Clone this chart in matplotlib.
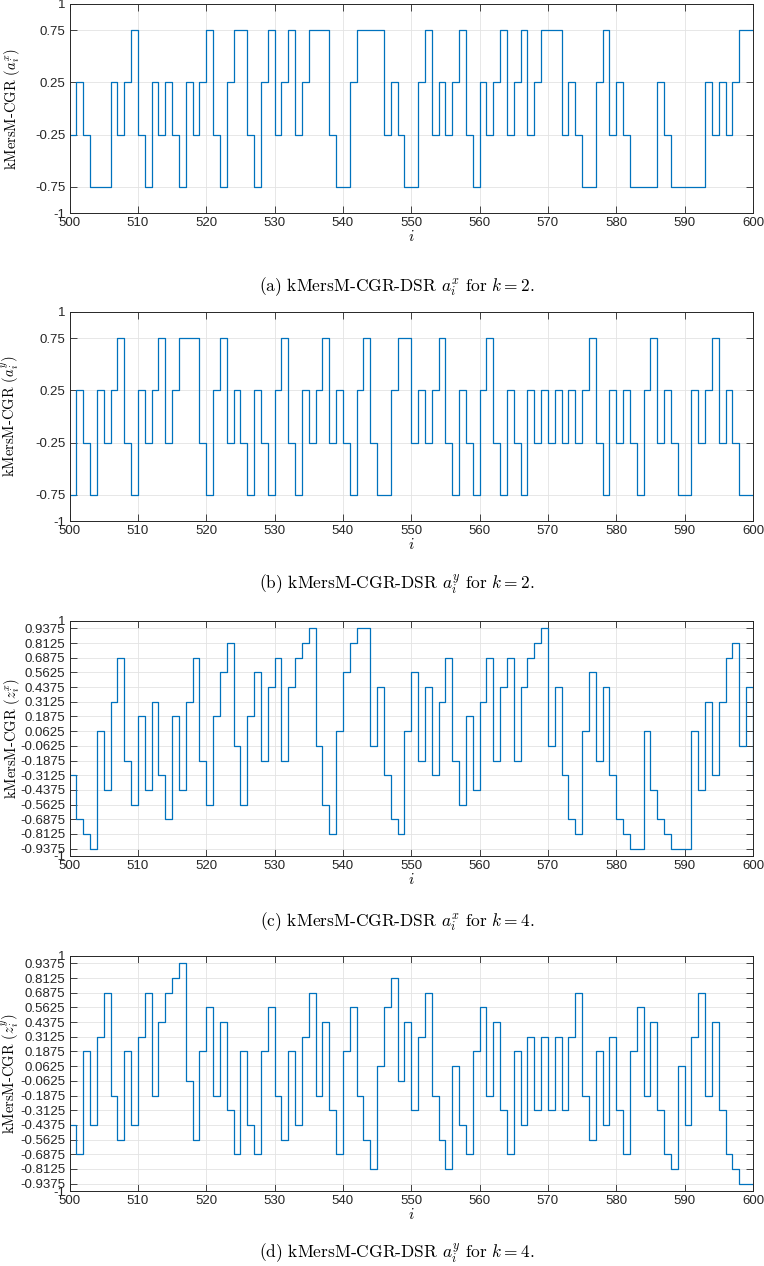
import matplotlib
matplotlib.use('Agg')
import matplotlib.pyplot as plt
import numpy as np

plt.rcParams['mathtext.fontset'] = 'cm'

positions = np.arange(500, 601)

# k = 2, x coordinate (i = 500 .. 600)
ax_k2 = [-0.25, 0.25, -0.25, -0.75, -0.75, -0.75, 0.25, -0.25, 0.25, 0.75,
         -0.25, -0.75, 0.25, -0.25, 0.25, -0.25, -0.75, 0.25, -0.25, 0.25,
         0.75, -0.25, -0.75, 0.25, 0.75, 0.75, -0.25, -0.75, 0.25, 0.75,
         -0.25, 0.25, 0.75, -0.25, 0.25, 0.75, 0.75, 0.75, -0.25, -0.75,
         -0.75, 0.25, 0.75, 0.75, 0.75, 0.75, -0.25, 0.25, -0.25, -0.75,
         -0.75, 0.25, 0.75, -0.25, 0.25, -0.25, 0.25, 0.75, -0.25, -0.75,
         0.25, -0.25, 0.25, 0.75, -0.25, 0.25, 0.75, -0.25, 0.25, 0.75,
         0.75, 0.75, -0.25, 0.25, -0.25, -0.75, -0.75, 0.25, 0.75, -0.25,
         0.25, -0.25, -0.75, -0.75, -0.75, -0.75, 0.25, -0.25, -0.75, -0.75,
         -0.75, -0.75, -0.75, 0.25, -0.25, 0.25, -0.25, 0.25, 0.75, 0.75,
         0.75]

# k = 2, y coordinate
ay_k2 = [-0.75, 0.25, -0.25, -0.75, 0.25, -0.25, 0.25, 0.75, -0.25, -0.75,
         0.25, -0.25, 0.25, 0.75, -0.25, 0.25, 0.75, 0.75, 0.75, -0.25,
         -0.75, 0.25, 0.75, -0.25, 0.25, -0.25, -0.75, 0.25, -0.25, -0.75,
         0.25, 0.75, -0.25, -0.75, 0.25, -0.25, 0.25, 0.75, -0.25, 0.25,
         -0.25, -0.75, 0.25, 0.75, -0.25, -0.75, -0.75, 0.25, 0.75, 0.75,
         -0.25, 0.25, -0.25, 0.25, 0.75, -0.25, -0.75, 0.25, -0.25, -0.75,
         0.25, 0.75, -0.25, -0.75, 0.25, -0.25, -0.75, 0.25, -0.25, 0.25,
         -0.25, 0.25, -0.25, 0.25, -0.25, 0.25, 0.75, -0.25, -0.75, 0.25,
         -0.25, 0.25, -0.25, -0.75, 0.25, 0.75, -0.25, 0.25, -0.25, -0.75,
         -0.75, 0.25, -0.25, 0.25, 0.75, -0.25, 0.25, -0.25, -0.75, -0.75,
         -0.75]

# k = 4, x coordinate
ax_k4 = [-0.3125, -0.6875, -0.8125, -0.9375, 0.0625, -0.4375, 0.3125, 0.6875, -0.1875, -0.5625,
         0.1875, -0.4375, 0.3125, -0.3125, -0.6875, 0.1875, -0.4375, 0.3125, 0.6875, -0.1875,
         -0.5625, 0.1875, 0.5625, 0.8125, -0.0625, -0.5625, 0.1875, 0.5625, -0.1875, 0.4375,
         0.6875, -0.1875, 0.4375, 0.6875, 0.8125, 0.9375, -0.0625, -0.5625, -0.8125, 0.0625,
         0.5625, 0.8125, 0.9375, 0.9375, -0.0625, 0.4375, -0.3125, -0.6875, -0.8125, 0.0625,
         0.5625, -0.1875, 0.4375, -0.3125, 0.3125, 0.6875, -0.1875, -0.5625, 0.1875, -0.4375,
         0.3125, 0.6875, -0.1875, 0.4375, 0.6875, -0.1875, 0.4375, 0.6875, 0.8125, 0.9375,
         -0.0625, 0.4375, -0.3125, -0.6875, -0.8125, 0.0625, 0.5625, -0.1875, 0.4375, -0.3125,
         -0.6875, -0.8125, -0.9375, -0.9375, 0.0625, -0.4375, -0.6875, -0.8125, -0.9375, -0.9375,
         -0.9375, 0.0625, -0.4375, 0.3125, -0.3125, 0.3125, 0.6875, 0.8125, -0.0625, 0.4375,
         -0.3125]

# k = 4, y coordinate
ay_k4 = [-0.4375, -0.6875, 0.1875, -0.4375, 0.3125, 0.6875, -0.1875, -0.5625, 0.1875, -0.4375,
         0.3125, 0.6875, -0.1875, 0.4375, 0.6875, 0.8125, 0.9375, -0.0625, -0.5625, 0.1875,
         0.5625, -0.1875, 0.4375, -0.3125, -0.6875, 0.1875, -0.4375, -0.6875, 0.1875, 0.5625,
         -0.1875, -0.5625, 0.1875, -0.4375, 0.3125, 0.6875, -0.1875, 0.4375, -0.3125, -0.6875,
         0.1875, 0.5625, -0.1875, -0.5625, -0.8125, 0.0625, 0.5625, 0.8125, -0.0625, 0.4375,
         -0.3125, 0.3125, 0.6875, -0.1875, -0.5625, -0.8125, 0.0625, -0.4375, -0.6875, 0.1875,
         0.5625, -0.1875, 0.4375, -0.3125, -0.6875, 0.1875, -0.4375, 0.3125, -0.3125, 0.3125,
         -0.3125, 0.3125, -0.3125, 0.3125, 0.6875, -0.1875, -0.5625, 0.1875, -0.4375, 0.3125,
         -0.3125, -0.6875, 0.1875, 0.5625, -0.1875, 0.4375, -0.3125, -0.6875, -0.8125, 0.0625,
         -0.4375, 0.3125, 0.6875, -0.1875, 0.4375, -0.3125, -0.6875, -0.8125, -0.9375, -0.9375,
         -0.9375]

xticks = list(range(500, 601, 10))
yticks_k2 = [-1, -0.75, -0.25, 0.25, 0.75, 1]
yticklabels_k2 = ['-1', '-0.75', '-0.25', '0.25', '0.75', '1']
yticks_k4 = [-1, -0.9375, -0.8125, -0.6875, -0.5625, -0.4375, -0.3125, -0.1875, -0.0625,
             0.0625, 0.1875, 0.3125, 0.4375, 0.5625, 0.6875, 0.8125, 0.9375, 1]
yticklabels_k4 = ['-1', '-0.9375', '-0.8125', '-0.6875', '-0.5625', '-0.4375', '-0.3125',
                  '-0.1875', '-0.0625', '0.0625', '0.1875', '0.3125', '0.4375', '0.5625',
                  '0.6875', '0.8125', '0.9375', '1']

panels = [
    (ax_k2, yticks_k2, yticklabels_k2, r'$(a_i^x)$', '(a)', r'$a_i^x$', 2),
    (ay_k2, yticks_k2, yticklabels_k2, r'$(a_i^y)$', '(b)', r'$a_i^y$', 2),
    (ax_k4, yticks_k4, yticklabels_k4, r'$(z_i^x)$', '(c)', r'$a_i^x$', 4),
    (ay_k4, yticks_k4, yticklabels_k4, r'$(z_i^y)$', '(d)', r'$a_i^y$', 4),
]

W, H = 764, 1266
# axes boxes in pixels: left, top, right, bottom
boxes = [(69.5, 4, 753, 213), (69.5, 312, 753, 521), (69.5, 621, 753, 856), (69.5, 956, 753, 1191)]
caption_y = [287, 585, 922, 1254]

fig = plt.figure(figsize=(W / 100, H / 100), dpi=100)
serif = ['cmr10', 'DejaVu Serif']
edge = '#262626'

for (vals, yt, ytl, ysym, tag, csym, k), (l, t, r, b), cy in zip(panels, boxes, caption_y):
    ax = fig.add_axes([l / W, 1 - b / H, (r - l) / W, (b - t) / H])
    ax.step(positions, vals, where='post', color='#0072BD', lw=0.9)
    ax.set_xlim(500, 600)
    ax.set_ylim(-1, 1)
    ax.set_xticks(xticks)
    ax.set_xticklabels([str(x) for x in xticks], family='Liberation Sans', fontsize=9.5)
    ax.set_yticks(yt)
    ax.set_yticklabels(ytl, family='Liberation Sans', fontsize=9.5)
    ax.grid(True, color='#e3e3e3', lw=0.6)
    ax.set_axisbelow(True)
    ax.tick_params(direction='in', top=True, right=True, length=5, width=0.6,
                   color=edge, labelcolor='#262626', pad=3)
    for s in ax.spines.values():
        s.set_color(edge)
        s.set_linewidth(0.7)
    ax.set_xlabel(r'$i$', fontsize=11, labelpad=0)
    ax.set_ylabel('kMersM-CGR ' + ysym, family=serif, fontsize=10.5)
    ax.yaxis.set_label_coords(-0.07, 0.5)
    fig.text(397 / W, 1 - cy / H,
             tag + ' kMersM-CGR-DSR ' + csym + ' for $k = %d$.' % k,
             family=serif, fontsize=12.5, ha='center', va='center')

fig.savefig('out.png', dpi=100)
